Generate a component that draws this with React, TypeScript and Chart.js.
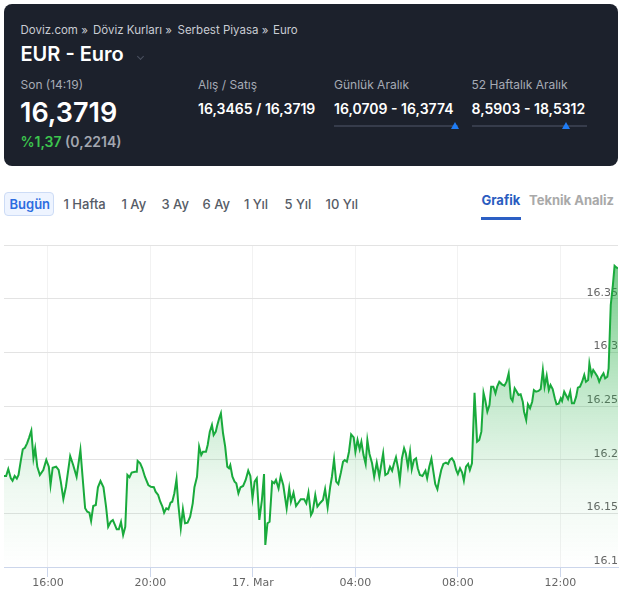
import React, { useEffect, useRef } from "react";
import { Chart, registerables } from "chart.js";

Chart.register(...registerables);

// minutes since 16 Mar 00:00
const times = [
  857, 862, 867, 873, 877, 882, 887, 891, 896, 901, 906, 911, 916, 921, 926, 930, 935, 941, 949, 956,
  962, 966, 971, 979, 985, 990, 996, 1002, 1012, 1019, 1027, 1036, 1041, 1047, 1052, 1057, 1061, 1066, 1072, 1077,
  1083, 1090, 1096, 1101, 1107, 1112, 1117, 1121, 1126, 1131, 1136, 1141, 1146, 1151,
  1156, 1164, 1168, 1170, 1176, 1181, 1187, 1195, 1201, 1208, 1212, 1218, 1223, 1228, 1232, 1237, 1242, 1247, 1251, 1256,
  1261, 1265, 1271, 1276, 1281, 1287, 1293, 1299, 1303, 1309, 1314, 1319, 1323, 1330, 1334, 1339, 1344, 1348, 1353, 1356,
  1361, 1365, 1370, 1375, 1380, 1384, 1387, 1392, 1397, 1401, 1406, 1411, 1417, 1423, 1429, 1434, 1439, 1444,
  1449, 1455, 1461, 1466, 1469, 1474, 1479, 1485, 1490, 1494, 1500, 1505, 1511, 1519, 1525, 1529, 1535, 1541, 1548, 1552,
  1560, 1565, 1570, 1576, 1580, 1586, 1591, 1598, 1604, 1609, 1615, 1621, 1625, 1630, 1635, 1640, 1646, 1651, 1655, 1660,
  1665, 1670, 1676, 1680, 1685, 1690, 1694, 1699, 1704, 1708, 1713, 1719, 1724, 1730,
  1736, 1740, 1745, 1750, 1756, 1761, 1766, 1770, 1775, 1780, 1784, 1789, 1794, 1798, 1803, 1808, 1812, 1817, 1822, 1826,
  1831, 1837, 1844, 1848, 1853, 1858, 1862, 1867, 1872, 1876, 1881, 1886, 1892, 1897, 1901, 1906, 1911, 1916, 1920, 1925,
  1930, 1934, 1939, 1944, 1948, 1953, 1959, 1965, 1970, 1975, 1980, 1984, 1989, 1994, 1998, 2003, 2008,
  2012, 2017, 2023, 2029, 2034, 2039, 2044, 2048, 2053, 2058, 2062, 2067, 2072, 2075, 2080, 2084, 2089, 2094, 2098, 2103,
  2109, 2114, 2119, 2123, 2128, 2133, 2137, 2142, 2147, 2151, 2156, 2161, 2164, 2169, 2173, 2178, 2183, 2187, 2192, 2197,
  2201, 2206, 2211, 2216, 2220, 2225, 2228, 2233, 2237, 2242, 2247, 2251, 2256, 2261, 2265, 2270, 2273, 2278, 2283, 2287,
  2292, 2295,
];

const rates = [
  16.1848, 16.1848, 16.1913, 16.1826, 16.1804, 16.1848, 16.1823, 16.1857, 16.1981, 16.2097,
  16.2111, 16.2152, 16.2208, 16.227, 16.2013, 16.2106, 16.1934, 16.1857, 16.1904, 16.1997,
  16.1934, 16.1764, 16.1925, 16.1934, 16.1904, 16.1795, 16.1634, 16.1748, 16.2034, 16.195,
  16.1841, 16.209, 16.1841, 16.1547, 16.1515, 16.1506, 16.1429, 16.1568, 16.1578, 16.1743,
  16.1801, 16.1743, 16.1562, 16.1375, 16.1422, 16.1438, 16.1391, 16.1351, 16.1351, 16.1419,
  16.1298, 16.1375, 16.1857, 16.1836,
  16.1879, 16.1888, 16.1888, 16.1988, 16.1966, 16.192, 16.1841, 16.1764, 16.1748, 16.1743,
  16.1702, 16.1671, 16.1608, 16.1562, 16.1506, 16.1547, 16.1538, 16.1599, 16.1608, 16.1687,
  16.1817, 16.1593, 16.1361, 16.1538, 16.1407, 16.1413, 16.1469, 16.1593, 16.1743, 16.1841,
  16.2121, 16.2043, 16.2074, 16.2074, 16.2137, 16.2261, 16.2323, 16.223, 16.2261, 16.2314,
  16.2385, 16.2432, 16.2246, 16.2121, 16.1934, 16.192, 16.195, 16.1841, 16.1795, 16.178,
  16.1687, 16.1743, 16.1755, 16.1811, 16.1897, 16.1848, 16.164, 16.1795,
  16.1826, 16.1438, 16.1624, 16.1866, 16.1205, 16.1407, 16.1422, 16.1795, 16.178, 16.1811,
  16.1733, 16.1848, 16.1764, 16.1547, 16.1733, 16.1608, 16.1692, 16.1568, 16.1608, 16.1631,
  16.1631, 16.1593, 16.1692, 16.1484, 16.1515, 16.1671, 16.1562, 16.1599, 16.1624, 16.1724,
  16.1556, 16.1748, 16.1841, 16.2003, 16.1795, 16.1773, 16.1879, 16.1981, 16.1997, 16.1981,
  16.2074, 16.2236, 16.2208, 16.2074, 16.2183, 16.2097, 16.2167, 16.2043, 16.196, 16.2183,
  16.2053, 16.1966, 16.1841, 16.1972,
  16.1841, 16.1941, 16.2059, 16.1857, 16.1873, 16.1934, 16.1897, 16.196, 16.2022, 16.192,
  16.1804, 16.2013, 16.2106, 16.2059, 16.1934, 16.2074, 16.191, 16.1997, 16.2013, 16.192,
  16.1857, 16.1848, 16.1897, 16.1826, 16.1934, 16.2009, 16.1904, 16.1773, 16.1724, 16.1811,
  16.1904, 16.196, 16.1972, 16.196, 16.1997, 16.2013, 16.1981, 16.1904, 16.1866, 16.192,
  16.1879, 16.1804, 16.1934, 16.196, 16.1904, 16.1966, 16.2624, 16.2167, 16.2183, 16.2261,
  16.2624, 16.2556, 16.2447, 16.2509, 16.268, 16.268, 16.2618,
  16.268, 16.2726, 16.2702, 16.2689, 16.2726, 16.2805, 16.2572, 16.2547, 16.2665, 16.2633,
  16.2602, 16.2609, 16.254, 16.2447, 16.237, 16.2516, 16.2479, 16.254, 16.2649, 16.2633,
  16.264, 16.2658, 16.2835, 16.268, 16.2782, 16.2649, 16.2696, 16.2658, 16.2572, 16.2516,
  16.2521, 16.2572, 16.2547, 16.2633, 16.2602, 16.2565, 16.2633, 16.2525, 16.2525, 16.2587,
  16.2671, 16.268, 16.2726, 16.2789, 16.2726, 16.2742, 16.2898, 16.2789, 16.2835, 16.2805,
  16.2773, 16.2726, 16.2773, 16.2805, 16.2758, 16.2773, 16.2851, 16.3441, 16.3627, 16.3807,
  16.3789, 16.3783,
];

const xTickValues = [960, 1200, 1440, 1680, 1920, 2160];
const xTickLabels = ["16:00", "20:00", "17. Mar", "04:00", "08:00", "12:00"];
const yTickValues = [16.1, 16.15, 16.2, 16.25, 16.3, 16.35, 16.4];
const yTickLabels = ["16.1", "16.15", "16.2", "16.25", "16.3", "16.35", ""];

const breadcrumb = ["Doviz.com »", "Döviz Kurları »", "Serbest Piyasa »", "Euro"];
const breadcrumbX = [20.5, 93, 177.5, 273];
const periods = ["1 Hafta", "1 Ay", "3 Ay", "6 Ay", "1 Yıl", "5 Yıl", "10 Yıl"];
const periodX = [63.5, 121.5, 161.5, 202.5, 244, 284.5, 325.5];

const INTER = "Inter, 'Noto Sans', sans-serif";

function T(props: { x: number; cy: number; size: number; color: string; weight?: number; children: React.ReactNode }) {
  const lh = Math.round(props.size * 1.2);
  return (
    <div
      style={{
        position: "absolute",
        left: props.x,
        top: props.cy - lh / 2,
        fontSize: props.size,
        lineHeight: lh + "px",
        color: props.color,
        fontWeight: props.weight || 400,
        fontFamily: INTER,
        whiteSpace: "nowrap",
      }}
    >
      {props.children}
    </div>
  );
}

function RangeBar(props: { x: number; w: number; marker: number }) {
  return (
    <>
      <div style={{ position: "absolute", left: props.x, top: 125, width: props.w, height: 2, background: "#363c4b" }} />
      <div
        style={{
          position: "absolute",
          left: props.marker - 4.5,
          top: 122,
          width: 0,
          height: 0,
          borderLeft: "4.5px solid transparent",
          borderRight: "4.5px solid transparent",
          borderBottom: "7px solid #1f7cf5",
        }}
      />
    </>
  );
}

export default function App() {
  const canvasRef = useRef<HTMLCanvasElement | null>(null);

  useEffect(() => {
    const canvas = canvasRef.current;
    if (!canvas) return;
    const chart = new Chart(canvas, {
      type: "line",
      data: {
        datasets: [
          {
            data: times.map((t, i) => ({ x: t, y: rates[i] })),
            borderColor: "#19aa3c",
            borderWidth: 2,
            pointRadius: 0,
            tension: 0,
            fill: "start",
            backgroundColor: (ctx: any) => {
              const area = ctx.chart.chartArea;
              if (!area) return "rgba(25,170,60,0.2)";
              const g = ctx.chart.ctx.createLinearGradient(0, area.top, 0, area.bottom);
              g.addColorStop(0, "rgba(25,170,60,0.65)");
              g.addColorStop(0.45, "rgba(25,170,60,0.27)");
              g.addColorStop(0.75, "rgba(25,170,60,0.07)");
              g.addColorStop(1, "rgba(25,170,60,0)");
              return g;
            },
          },
        ],
      },
      options: {
        responsive: false,
        animation: false,
        layout: { padding: { left: 4, right: 5, top: 10, bottom: 0 } },
        plugins: { legend: { display: false }, tooltip: { enabled: false } },
        scales: {
          x: {
            type: "linear",
            min: 857,
            max: 2295,
            afterBuildTicks: (s: any) => {
              s.ticks = xTickValues.map((v) => ({ value: v }));
            },
            afterFit: (s: any) => {
              s.height = 25;
            },
            ticks: {
              autoSkip: false,
              maxRotation: 0,
              padding: 0,
              color: "#666666",
              font: { family: "'DejaVu Sans'", size: 11 },
              callback: (_v: any, i: number) => xTickLabels[i],
            },
            grid: { color: "#f2f2f2", tickColor: "#ccd6eb", tickLength: 10, drawTicks: true },
            border: { color: "#ccd6eb", width: 1 },
          },
          y: {
            type: "linear",
            position: "right",
            min: 16.1,
            max: 16.4,
            afterBuildTicks: (s: any) => {
              s.ticks = yTickValues.map((v) => ({ value: v }));
            },
            afterFit: (s: any) => {
              s.width = 0;
            },
            ticks: {
              mirror: true,
              padding: 0,
              labelOffset: -6,
              color: "#666666",
              font: { family: "'DejaVu Sans'", size: 11 },
              callback: (_v: any, i: number) => yTickLabels[i],
            },
            grid: { color: "#e3e3e3", drawTicks: false },
            border: { display: false },
          },
        },
      } as any,
    });
    return () => chart.destroy();
  }, []);

  return (
    <div style={{ position: "absolute", left: 0, top: 0, width: 623, height: 592, background: "#ffffff", overflow: "hidden" }}>
      {/* header card */}
      <div style={{ position: "absolute", left: 4, top: 4, width: 614, height: 162, background: "#1c212c", borderRadius: 8 }} />
      {breadcrumb.map((b, i) => (
        <T key={b} x={breadcrumbX[i]} cy={30} size={11.5} color="#c9ccd3">
          {b}
        </T>
      ))}
      <T x={20.5} cy={54} size={20} color="#ffffff" weight={600}>
        EUR - Euro
      </T>
      <div
        style={{
          position: "absolute",
          left: 138,
          top: 54,
          width: 4,
          height: 4,
          borderRight: "1px solid #4a5060",
          borderBottom: "1px solid #4a5060",
          transform: "rotate(45deg)",
        }}
      />
      <T x={20.5} cy={85} size={12} color="#a6abb5">
        Son (14:19)
      </T>
      <T x={20} cy={112.5} size={27} color="#ffffff" weight={600}>
        16,3719
      </T>
      <T x={20.5} cy={141.5} size={14} color="#3cc54e" weight={600}>
        %1,37 <span style={{ color: "#a3a7b0" }}>(0,2214)</span>
      </T>
      <T x={198} cy={85} size={12} color="#a6abb5">
        Alış / Satış
      </T>
      <T x={198} cy={108.5} size={14} color="#ffffff" weight={600}>
        16,3465 / 16,3719
      </T>
      <T x={334} cy={85} size={12} color="#a6abb5">
        Günlük Aralık
      </T>
      <T x={334} cy={108.5} size={14} color="#ffffff" weight={600}>
        16,0709 - 16,3774
      </T>
      <RangeBar x={334} w={124} marker={455} />
      <T x={471.5} cy={85} size={12} color="#a6abb5">
        52 Haftalık Aralık
      </T>
      <T x={471.5} cy={108.5} size={14} color="#ffffff" weight={600}>
        8,5903 - 18,5312
      </T>
      <RangeBar x={471.5} w={115} marker={566} />

      {/* period tabs */}
      <div
        style={{
          position: "absolute",
          left: 4,
          top: 192,
          width: 48,
          height: 22,
          border: "1px solid #cddcf6",
          background: "#eef4ff",
          borderRadius: 4,
        }}
      />
      <T x={9.5} cy={203.5} size={13} color="#2c6ce0" weight={600}>
        Bugün
      </T>
      {periods.map((p, i) => (
        <T key={p} x={periodX[i]} cy={203.5} size={13} color="#555b66" weight={500}>
          {p}
        </T>
      ))}
      <T x={481.5} cy={200} size={13} color="#2a5cbf" weight={700}>
        Grafik
      </T>
      <div style={{ position: "absolute", left: 481, top: 217, width: 40, height: 3, background: "#2c5fc4" }} />
      <T x={529} cy={200} size={13} color="#a9a9a9" weight={700}>
        Teknik Analiz
      </T>

      <canvas
        ref={canvasRef}
        width={623}
        height={357}
        style={{ position: "absolute", left: 0, top: 235, width: 623, height: 357 }}
      />
    </div>
  );
}
